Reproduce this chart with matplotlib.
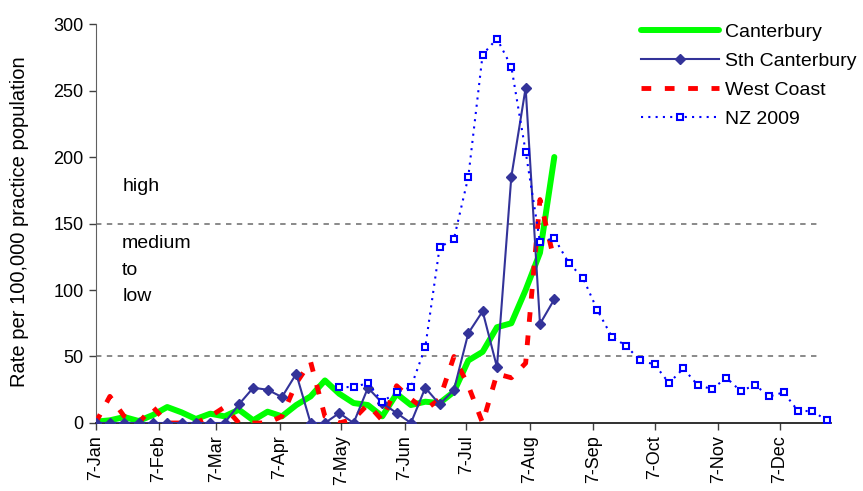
"""
Weekly consultation rate per 100,000 practice population, 2009,
Canterbury / Sth Canterbury / West Coast against the NZ 2009 curve.
"""

import numpy as np
import pandas as pd
import matplotlib
matplotlib.use("Agg")
import matplotlib.pyplot as plt
import matplotlib.dates as mdates


plt.rcParams["font.family"] = ["Liberation Sans", "DejaVu Sans"]

# weekly dates starting 7 Jan 2009
weeks = pd.date_range("2009-01-07", periods=52, freq="7D")

canterbury = [1, 2, 4.5, 1.5, 6, 12, 8, 3, 7, 5, 10, 2, 8.5, 5, 13.5, 20, 32,
              22, 15, 13.5, 5, 22, 13.5, 16, 15, 23.5, 47, 53.5, 72, 75, 100,
              128, 200]

sth_canterbury = [0, 0, 0, 0, 0, 0, 0, 0, 0, 0, 14, 26.5, 25, 19.5, 37, 0, 0,
                  7.5, 0, 26.5, 15, 7.5, 0, 26.5, 14, 25, 67.5, 84, 42, 185,
                  252, 74.5, 93]

west_coast = [0, 20, 5, 0, 12, 0, 0, 0, 5, 12, 0, 0, 0, 5, 30, 46, 5, 0, 3,
              14, 2, 28, 18, 10, 18, 50, 28, 0, 37, 34, 45, 168, 122]

# NZ 2009 series starts at week 17 (6 May)
nz_start = 17
nz_2009 = [27, 27, 30, 16, 23, 27, 57, 132, 138.5, 185, 277, 289, 268, 204,
           136, 139, 120.5, 109, 85, 65, 58, 47, 44, 30, 41, 28.5, 25.5, 34,
           24, 28.5, 20, 23, 9, 9, 2]


def day_month(v, pos):
    d = mdates.num2date(v)
    return "%d-%s" % (d.day, d.strftime("%b"))


def main():
    fig = plt.figure(figsize=(8.63, 4.91), dpi=100)
    ax = fig.add_axes([0.1107, 0.1385, 0.852, 0.8126])

    n = len(canterbury)
    ax.plot(weeks[:n], canterbury, color="#00ff00", lw=4.3, label="Canterbury",
            solid_capstyle="round", zorder=3)
    ax.plot(weeks[:n], sth_canterbury, color="#333399", lw=1.5, marker="D",
            markersize=5.5, label="Sth Canterbury", zorder=4)
    ax.plot(weeks[:n], west_coast, color="#ff0000", lw=3.5,
            linestyle=(0, (2, 2.8)), label="West Coast", zorder=3)
    ax.plot(weeks[nz_start:nz_start + len(nz_2009)], nz_2009, color="#0000ff",
            lw=1.5, linestyle=(0, (1, 2.5)), marker="s", markersize=5,
            markerfacecolor="white", markeredgecolor="#0000ff",
            markeredgewidth=1.5, label="NZ 2009", zorder=5)

    # threshold lines
    x0 = pd.Timestamp("2009-01-07")
    x1 = pd.Timestamp("2009-12-27")
    ax.hlines([50, 150], x0, x1, colors="#808080", linestyles=(0, (3, 3)),
              lw=1.3, zorder=1)

    ax.text(pd.Timestamp("2009-01-20"), 178, "high", fontsize=14,
            ha="left", va="center")
    ax.text(pd.Timestamp("2009-01-20"), 115, "medium\nto\nlow", fontsize=14,
            ha="left", va="center", linespacing=1.72)

    ax.set_xlim(x0, pd.Timestamp("2010-01-01"))
    ax.set_ylim(0, 300)
    ax.set_yticks(range(0, 301, 50))

    ax.xaxis.set_major_locator(mdates.MonthLocator(bymonthday=7))
    ax.xaxis.set_major_formatter(plt.FuncFormatter(day_month))

    ax.tick_params(axis="both", labelsize=13, direction="out", length=5,
                   width=1, color="#404040")
    ax.tick_params(axis="x", labelrotation=90)
    for side in ("top", "right"):
        ax.spines[side].set_visible(False)
    ax.spines["left"].set_color("#606060")
    ax.spines["bottom"].set_color("#202020")
    ax.spines["bottom"].set_linewidth(1.3)

    ax.set_ylabel("Rate per 100,000 practice population", fontsize=14.5)
    ax.yaxis.set_label_coords(-0.09, 0.505)

    fig.legend(loc="upper left", bbox_to_anchor=(0.7428, 0.952),
               frameon=False, fontsize=14, handlelength=4.0,
               handletextpad=0.3, labelspacing=0.58, borderpad=0,
               borderaxespad=0, numpoints=1)

    fig.savefig("out.png", dpi=100)


if __name__ == "__main__":
    main()
